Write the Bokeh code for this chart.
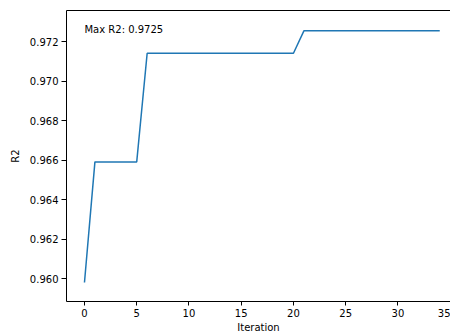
from bokeh.plotting import figure
from bokeh.models import LinearAxis, FixedTicker, NumeralTickFormatter, Range1d, Label
from bokeh.embed import file_html
from bokeh.resources import INLINE

iterations = [0, 1, 2, 3, 4, 5, 6, 7, 8, 9, 10, 11, 12, 13, 14, 15, 16, 17, 18, 19,
              20, 21, 22, 23, 24, 25, 26, 27, 28, 29, 30, 31, 32, 33, 34]
r2_best = [0.95981,
           0.96591, 0.96591, 0.96591, 0.96591, 0.96591,
           0.97141, 0.97141, 0.97141, 0.97141, 0.97141, 0.97141, 0.97141, 0.97141,
           0.97141, 0.97141, 0.97141, 0.97141, 0.97141, 0.97141, 0.97141,
           0.97254, 0.97254, 0.97254, 0.97254, 0.97254, 0.97254, 0.97254, 0.97254,
           0.97254, 0.97254, 0.97254, 0.97254, 0.97254, 0.97254]
x_ticks = [0, 5, 10, 15, 20, 25, 30, 35]
y_ticks = [0.960, 0.962, 0.964, 0.966, 0.968, 0.970, 0.972]
max_label = "Max R2: 0.9725"

FONT = "DejaVu Sans"
FS = "10px"

Y_TOP = 0.97357
Y_BOTTOM = 0.95885
FRAME_H = 291.0

p = figure(width=450, height=335, output_backend="svg", toolbar_location=None,
           x_range=Range1d(-1.72, 35.03), y_range=Range1d(Y_BOTTOM, Y_TOP),
           min_border_left=66, min_border_right=0, min_border_top=10, min_border_bottom=34)
p.outline_line_color = None
p.grid.visible = False
p.background_fill_color = "white"
p.border_fill_color = "white"

p.line(iterations, r2_best, line_color="#1f77b4", line_width=1.5)

for ax in (p.xaxis[0], p.yaxis[0]):
    ax.axis_line_color = "black"
    ax.axis_line_width = 1
    ax.major_tick_line_color = "black"
    ax.major_tick_out = 4
    ax.major_tick_in = 0
    ax.minor_tick_out = 0
    ax.minor_tick_in = 0
    ax.minor_tick_line_color = None
    ax.major_label_text_font = FONT
    ax.major_label_text_font_size = FS
    ax.major_label_text_color = "black"
    ax.axis_label_text_font = FONT
    ax.axis_label_text_font_size = FS
    ax.axis_label_text_font_style = "normal"
    ax.axis_label_text_color = "black"

p.xaxis[0].ticker = FixedTicker(ticks=x_ticks)
p.xaxis[0].axis_label = "Iteration"
p.xaxis[0].major_label_standoff = 3
p.xaxis[0].axis_label_standoff = 2

p.yaxis[0].ticker = FixedTicker(ticks=y_ticks)
p.yaxis[0].formatter = NumeralTickFormatter(format="0.000")
p.yaxis[0].axis_label = "R2"
p.yaxis[0].major_tick_out = 5
p.yaxis[0].major_label_standoff = 3
p.yaxis[0].axis_label_standoff = 6

top = LinearAxis(ticker=FixedTicker(ticks=[]), axis_line_color="black",
                 major_tick_line_color=None, minor_tick_line_color=None,
                 major_tick_out=0, major_tick_in=0, minor_tick_out=0, minor_tick_in=0,
                 major_label_standoff=0, axis_label_standoff=0)
p.add_layout(top, "above")

# label baseline sits about 19 px below the top edge of the frame
label_y = Y_TOP - (Y_TOP - Y_BOTTOM) * 19.3 / FRAME_H
p.add_layout(Label(x=0.0, y=label_y, text=max_label, text_font=FONT,
                   text_font_size=FS, text_color="black", text_baseline="alphabetic"))

open("out.html", "w").write(file_html(p, INLINE))
